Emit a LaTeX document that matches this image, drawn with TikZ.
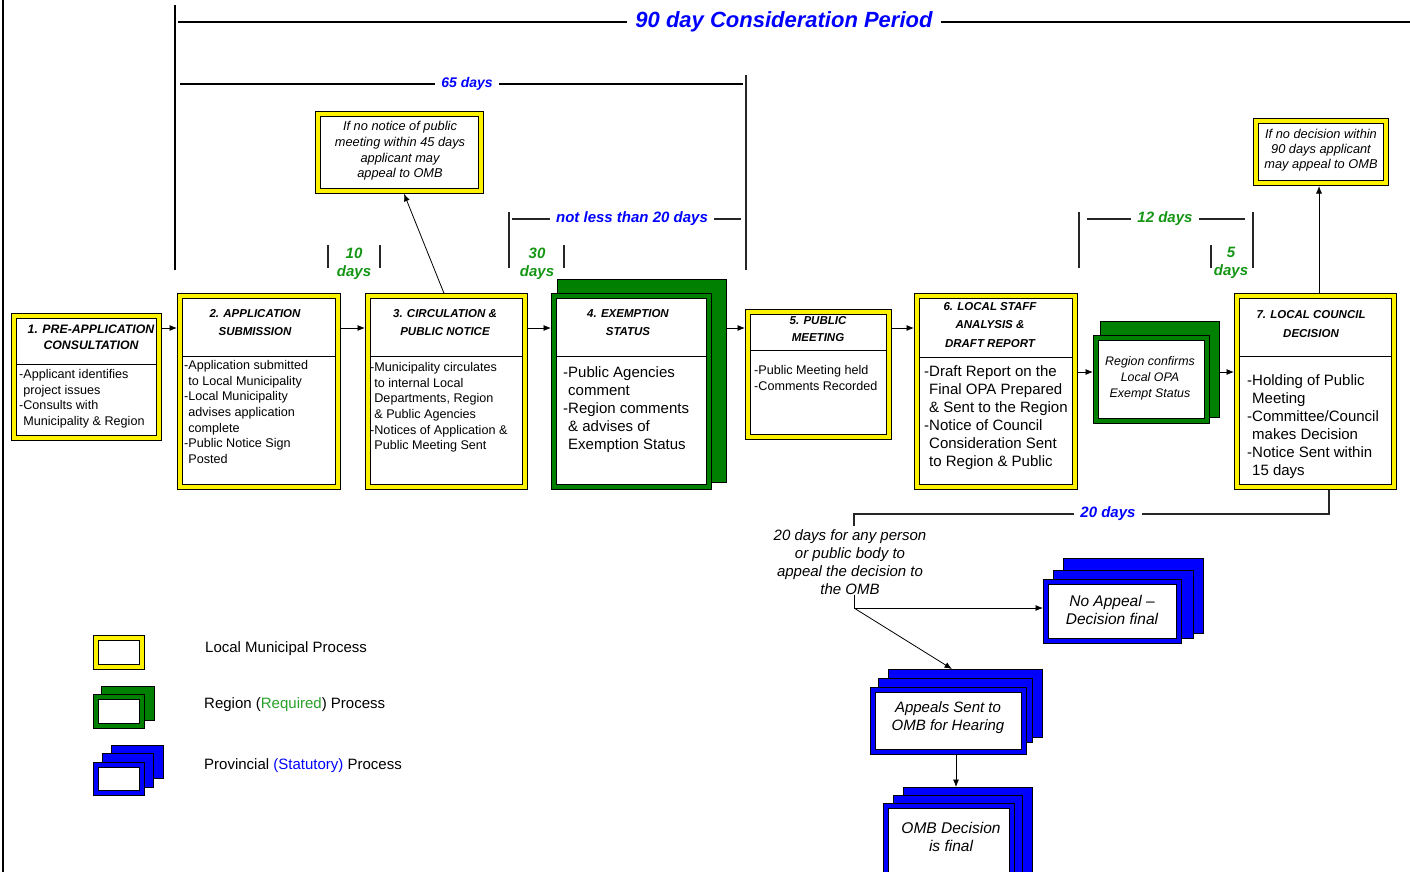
\documentclass[tikz,border=0pt]{standalone}
\usepackage{fontspec}
\setmainfont{Liberation Sans}
\usetikzlibrary{arrows.meta}
\definecolor{dgreen}{RGB}{0,128,0}
\definecolor{lgreen}{RGB}{20,150,20}
\definecolor{rgreen}{RGB}{40,160,40}
\definecolor{pblue}{RGB}{0,0,255}
\newcommand\dblbox[6]{\node[#1, minimum width={#5-#3-5.6}, minimum height={#6-#4-5.6}] (#2) at ({(#3+#5)/2},{(#4+#6)/2}) {};}
\newcommand\plainrect[6]{\node[#1, minimum width={#5-#3}, minimum height={#6-#4}] (#2) at ({(#3+#5)/2},{(#4+#6)/2}) {};}
\newcommand\bodyfont{\fontsize{12.6}{15.7}\selectfont}
\newcommand\bigbody{\fontsize{15}{18}\selectfont}
\newcommand\ttlstyle{\bfseries\itshape\fontsize{11.5}{18.5}\selectfont}
\newcommand\dsh{\hphantom{-}}
\tikzset{
  boxbase/.style={draw=black, line width=0.8pt, double distance=4pt, fill=white, inner sep=0pt, outer sep=0pt},
  ybox/.style={boxbase, double=yellow},
  gbox/.style={boxbase, double=dgreen},
  bbox/.style={boxbase, double=pblue},
  gback/.style={draw=black, line width=0.8pt, fill=dgreen, inner sep=0pt, outer sep=0pt},
  bback/.style={draw=black, line width=0.8pt, fill=pblue, inner sep=0pt, outer sep=0pt},
  ttl/.style={font=\ttlstyle, align=center, inner sep=0pt},
  body/.style={font=\bodyfont, align=left, anchor=north west, inner sep=0pt},
  bigtxt/.style={font=\bigbody, align=left, anchor=north west, inner sep=0pt},
  itxt/.style={font=\fontsize{12.8}{15.7}\selectfont\itshape, align=center, inner sep=0pt},
  bigit/.style={font=\fontsize{15}{18}\selectfont\itshape, align=center, inner sep=0pt},
  arr/.style={line width=0.8pt, -{Latex[length=7.5pt,width=6pt]}},
  divider/.style={line width=0.8pt},
  brk/.style={line width=1.3pt, black!85},
  brkv/.style={line width=1.6pt, black!85},
  dayb/.style={font=\bfseries\itshape\fontsize{15}{18}\selectfont, text=pblue, inner sep=6pt},
  dayg/.style={font=\bfseries\itshape\fontsize{15}{18}\selectfont, text=lgreen, align=center, inner sep=0pt},
  legtxt/.style={font=\fontsize{15}{18}\selectfont, anchor=west, inner sep=0pt},
}
\begin{document}
\begin{tikzpicture}[x=1pt,y=-1pt]
\clip (0,0) rectangle (1410,872);
\fill[white] (0,0) rectangle (1410,872);
% left edge and 90-day bracket
\draw[line width=2pt] (3,0) -- (3,872);
\draw[line width=1.8pt] (175,5) -- (175,270);
\node[font=\bfseries\itshape\fontsize{22}{26}\selectfont, text=pblue, inner sep=8pt] (p90) at (784,22) {90 day Consideration Period};
\draw[line width=2.2pt] (178,22) -- (p90.west);
\draw[line width=2.2pt] (p90.east) -- (1410,22);
% 65 days
\node[dayb, font=\bfseries\itshape\fontsize{14}{18}\selectfont] (d65) at (467,84) {65 days};
\draw[line width=1.5pt] (180,84) -- (d65.west);
\draw[line width=1.5pt] (d65.east) -- (743,84);
\draw[brkv] (746,75) -- (746,270);
% not less than 20 days
\node[dayb] (d20b) at (632,219) {not less than 20 days};
\draw[brk] (512,219) -- (d20b.west);
\draw[brk] (d20b.east) -- (741,219);
\draw[brkv] (509,212) -- (509,268);
% 10 days
\draw[brkv] (328,245) -- (328,268);
\draw[brkv] (380,245) -- (380,268);
\node[dayg] (d10) at (354,264) {10\\days};
% 30 days
\draw[brkv] (564,245) -- (564,268);
\node[dayg] (d30) at (537,264) {30\\days};
% 12 days
\node[dayb, text=lgreen] (d12) at (1165,219) {12 days};
\draw[brk] (1087,219) -- (d12.west);
\draw[brk] (d12.east) -- (1245,219);
\draw[brkv] (1079,212) -- (1079,268);
\draw[brkv] (1253,212) -- (1253,268);
% 5 days
\draw[brkv] (1211,245) -- (1211,268);
\node[dayg] (d5) at (1231,262.5) {5\\days};

% ---------- boxes ----------
\dblbox{ybox}{b1}{11}{313}{162}{441}
\draw[divider] (17,364) -- (157,364);
\node[ttl, font=\bfseries\itshape\fontsize{12.3}{15.5}\selectfont] (t1) at (91,337.5) {1. PRE-APPLICATION\\CONSULTATION};
\node[body] (x1) at (19,369) {-Applicant identifies\\\dsh project issues\\-Consults with\\\dsh Municipality \& Region};

\dblbox{ybox}{b2}{177}{293}{341}{490}
\draw[divider] (183,356) -- (335,356);
\node[ttl] (t2) at (255,322.5) {2. APPLICATION\\SUBMISSION};
\node[body] (x2) at (184,360) {-Application submitted\\\dsh to Local Municipality\\-Local Municipality\\\dsh advises application\\\dsh complete\\-Public Notice Sign\\\dsh Posted};

\dblbox{ybox}{b3}{365}{293}{528}{490}
\draw[divider] (371,356) -- (522,356);
\node[ttl] (t3) at (445,322.5) {3. CIRCULATION \&\\PUBLIC NOTICE};
\node[body] (x3) at (370,362) {-Municipality circulates\\\dsh to internal Local\\\dsh Departments, Region\\\dsh \& Public Agencies\\-Notices of Application \&\\\dsh Public Meeting Sent};

\plainrect{gback}{b4back}{557}{279}{726}{482}
\dblbox{gbox}{b4}{551}{293}{712}{490}
\draw[divider] (556,356) -- (707,356);
\node[ttl] (t4) at (628,322.5) {4. EXEMPTION\\STATUS};
\node[bigtxt] (x4) at (563,366) {-Public Agencies\\\dsh comment\\-Region comments\\\dsh \& advises of\\\dsh Exemption Status};

\dblbox{ybox}{b5}{745}{309}{892}{440}
\draw[divider] (750,350) -- (887,350);
\node[ttl, font=\bfseries\itshape\fontsize{11.5}{17}\selectfont] (t5) at (818,329.5) {5. PUBLIC\\MEETING};
\node[body] (x5) at (754,365) {-Public Meeting held\\-Comments Recorded};

\dblbox{ybox}{b6}{914}{293}{1078}{490}
\draw[divider] (920,357) -- (1072,357);
\node[ttl] (t6) at (990,325) {6. LOCAL STAFF\\ANALYSIS \&\\DRAFT REPORT};
\node[bigtxt] (x6) at (924,365) {-Draft Report on the\\\dsh Final OPA Prepared\\\dsh \& Sent to the Region\\-Notice of Council\\\dsh Consideration Sent\\\dsh to Region \& Public};

\plainrect{gback}{regback}{1100}{321}{1219}{417}
\dblbox{gbox}{reg}{1093}{335}{1210}{424}
\node[itxt, font=\fontsize{12.4}{16}\selectfont\itshape] (xr) at (1150,378) {Region confirms\\Local OPA\\Exempt Status};

\dblbox{ybox}{b7}{1234}{293}{1397}{490}
\draw[divider] (1240,356) -- (1391,356);
\node[ttl] (t7) at (1311,324) {7. LOCAL COUNCIL\\DECISION};
\node[bigtxt] (x7) at (1247,374) {-Holding of Public\\\dsh Meeting\\-Committee/Council\\\dsh makes Decision\\-Notice Sent within\\\dsh 15 days};

% notes
\dblbox{ybox}{n1}{315}{111}{484}{194}
\node[itxt] (xn1) at (400,151) {If no notice of public\\meeting within 45 days\\applicant may\\appeal to OMB};
\dblbox{ybox}{n2}{1253}{118}{1389}{186}
\node[itxt, font=\fontsize{12.8}{15}\selectfont\itshape] (xn2) at (1321,150) {If no decision within\\90 days applicant\\may appeal to OMB};

% main flow arrows
\coordinate (ya) at (0,328);
\coordinate (yb) at (0,372);
\draw[arr, shorten <=2.8pt, shorten >=2.8pt] (b1.east |- ya) -- (b2.west |- ya);
\draw[arr, shorten <=2.8pt, shorten >=2.8pt] (b2.east |- ya) -- (b3.west |- ya);
\draw[arr, shorten <=2.8pt, shorten >=2.8pt] (b3.east |- ya) -- (b4.west |- ya);
\draw[arr, shorten >=2.8pt] (b4back.east |- ya) -- (b5.west |- ya);
\draw[arr, shorten <=2.8pt, shorten >=2.8pt] (b5.east |- ya) -- (b6.west |- ya);
\draw[arr, shorten <=2.8pt, shorten >=2.8pt] (b6.east |- yb) -- (reg.west |- yb);
\draw[arr, shorten >=2.8pt] (regback.east |- yb) -- (b7.west |- yb);
\draw[arr, shorten <=2.8pt, shorten >=2.8pt] ([xshift=-1.5pt]b3.north) -- ([xshift=3.5pt]n1.south);
\draw[arr, shorten <=2.8pt, shorten >=2.8pt] ([xshift=3.5pt]b7.north) -- ([xshift=3.5pt]b7.north |- n2.south);

% 20 days appeal period
\node[dayb] (d20) at (1108,514) {20 days};
\coordinate (c20r) at (1329,514);
\coordinate (c20l) at (854,514);
\draw[brk, shorten <=2.8pt] ([xshift=13.5pt]b7.south) -- (c20r) -- (d20.east);
\draw[brk] (d20.west) -- (c20l) -- (854,526);
\node[bigit] (ap) at (850,562) {20 days for any person\\or public body to\\appeal the decision to\\the OMB};
\coordinate (split) at (854,608);

% provincial boxes
\plainrect{bback}{nab}{1063}{558}{1203}{633}
\plainrect{bback}{nam}{1053}{570}{1193}{638}
\dblbox{bbox}{na}{1043}{579}{1182}{644}
\node[bigit, font=\fontsize{15.5}{18}\selectfont\itshape] (xna) at (1112,610) {No Appeal --\\Decision final};

\plainrect{bback}{asb}{888}{669}{1042}{737}
\plainrect{bback}{asm}{878}{678}{1032}{742}
\dblbox{bbox}{as}{870}{687}{1027}{755}
\node[bigit] (xas) at (948,718) {Appeals Sent to\\OMB for Hearing};

\plainrect{bback}{omb}{903}{787}{1032}{890}
\plainrect{bback}{omm}{893}{795}{1022}{895}
\dblbox{bbox}{om}{883}{803}{1015}{900}
\node[bigit, font=\fontsize{15.5}{18}\selectfont\itshape] (xom) at (951,837) {OMB Decision\\is final};

\draw[line width=0.8pt] (ap.south -| split) -- (split);
\draw[arr, shorten >=2.8pt] (split) -- (na.west |- split);
\draw[arr] (split) -- ([xshift=-13pt]asb.north);
\draw[arr, shorten <=2.8pt] ([xshift=7.5pt]as.south) -- ([xshift=7.5pt]as.south |- omb.north);

% legend
\dblbox{ybox}{ly}{93}{635}{145}{670}
\plainrect{gback}{lgb}{101}{686}{154}{720}
\dblbox{gbox}{lg}{93}{694}{145}{729}
\plainrect{bback}{lbb}{111}{745}{163}{778}
\plainrect{bback}{lbm}{102}{753}{153}{787}
\dblbox{bbox}{lb}{93}{762}{145}{796}
\node[legtxt] (ly1) at (205,649) {Local Municipal Process};
\node[legtxt] (lg1) at (204,705) {Region (\textcolor{rgreen}{Required}) Process};
\node[legtxt] (lb1) at (204,766) {Provincial \textcolor{pblue}{(Statutory)} Process};
\end{tikzpicture}
\end{document}
